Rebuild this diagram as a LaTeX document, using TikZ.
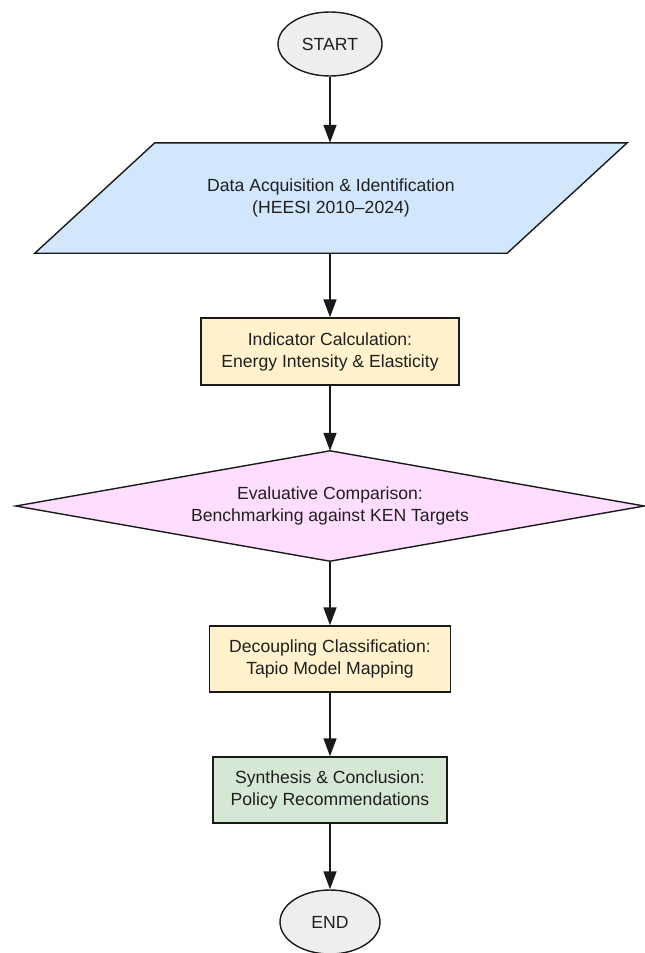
\documentclass[tikz,border=0pt]{standalone}
\usepackage{fontspec}
\setmainfont{Liberation Sans}
\usetikzlibrary{arrows.meta,shapes.geometric,backgrounds}
\definecolor{linec}{HTML}{1A1A1A}
\definecolor{termfill}{HTML}{EEEEEE}
\definecolor{datafill}{HTML}{D2E6FC}
\definecolor{calcfill}{HTML}{FFF2CC}
\definecolor{evalfill}{HTML}{FEDDFE}
\definecolor{synfill}{HTML}{D5E8D4}
\begin{document}
\begin{tikzpicture}[x=1pt,y=-1pt,
  every node/.style={font=\fontsize{17.6pt}{22pt}\selectfont, text=black!88, align=center, inner sep=0pt},
  term/.style={ellipse, draw=linec, line width=1.4pt, fill=termfill},
  stepbox/.style={rectangle, draw=linec, line width=1.4pt},
  shapeline/.style={draw=linec, line width=1.4pt},
  arr/.style={draw=linec, line width=1.6pt, -{Triangle[length=18pt,width=13pt]}}]
\begin{scope}[on background layer]
\fill[white] (0,0) rectangle (645,953);
\end{scope}
\useasboundingbox (0,0) rectangle (645,953);
\node[term, minimum width=104pt, minimum height=64pt] (start) at (330,44) {START};
\node[minimum width=472pt, minimum height=110pt] (data) at (331,198) {Data Acquisition \& Identification\\(HEESI 2010–2024)};
\node[stepbox, fill=calcfill, minimum width=258pt, minimum height=67pt] (calc) at (330,351.5) {Indicator Calculation:\\Energy Intensity \& Elasticity};
\node[minimum width=628pt, minimum height=110pt] (eval) at (330,506) {Evaluative Comparison:\\Benchmarking against KEN Targets};
\node[stepbox, fill=calcfill, minimum width=241pt, minimum height=66pt] (dec) at (330,659) {Decoupling Classification:\\Tapio Model Mapping};
\node[stepbox, fill=synfill, minimum width=234pt, minimum height=66pt] (syn) at (330,790) {Synthesis \& Conclusion:\\Policy Recommendations};
\node[term, minimum width=100pt, minimum height=64pt] (end) at (330,922) {END};
\begin{scope}[on background layer]
\draw[shapeline, fill=datafill]
  ([xshift=60pt]data.north west) -- ([xshift=60pt]data.north east) --
  ([xshift=-60pt]data.south east) -- ([xshift=-60pt]data.south west) -- cycle;
\draw[shapeline, fill=evalfill]
  (eval.north) -- (eval.east) -- (eval.south) -- (eval.west) -- cycle;
\end{scope}
\draw[arr] (start.south) -- (start.south |- data.north);
\draw[arr] (data.south -| calc.north) -- (calc.north);
\draw[arr] (calc.south) -- (eval.north);
\draw[arr] (eval.south) -- (dec.north);
\draw[arr] (dec.south) -- (syn.north);
\draw[arr] (syn.south) -- (end.north);
\end{tikzpicture}
\end{document}
